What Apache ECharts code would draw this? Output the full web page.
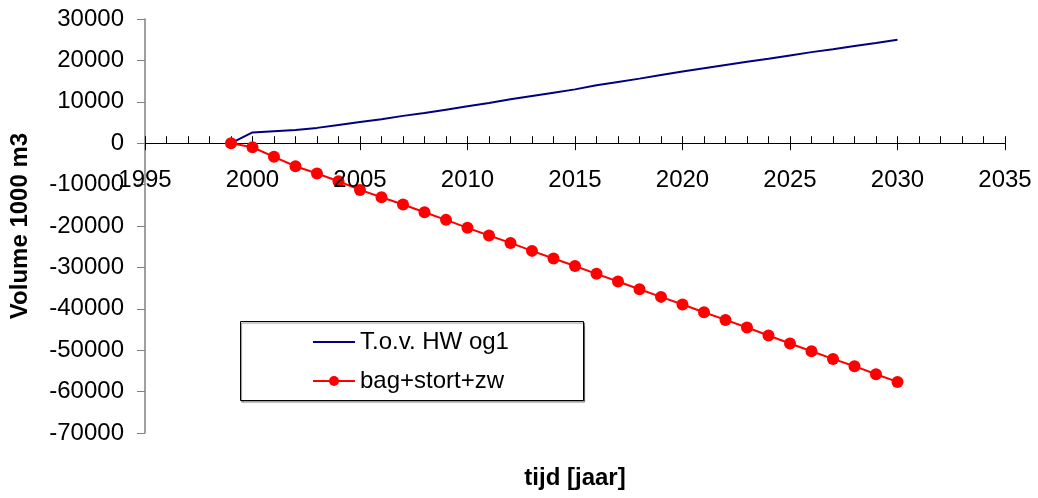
<!DOCTYPE html>
<html>
<head>
<meta charset="utf-8">
<script src="https://cdn.jsdelivr.net/npm/echarts@6/dist/echarts.min.js"></script>
<style>
  html, body { margin: 0; padding: 0; background: #fff; }
  #chart { width: 1038px; height: 498px; }
</style>
</head>
<body>
<div id="chart"></div>
<script>
// Years of the volume balance
const years = [1999, 2000, 2001, 2002, 2003, 2004, 2005, 2006, 2007, 2008, 2009,
  2010, 2011, 2012, 2013, 2014, 2015, 2016, 2017, 2018, 2019, 2020,
  2021, 2022, 2023, 2024, 2025, 2026, 2027, 2028, 2029, 2030];

// Volume relative to HW og1 (1000 m3)
const hwOg1 = [0, 2600, 2900, 3200, 3700, 4400, 5100, 5800, 6600, 7300, 8100,
  8900, 9700, 10600, 11400, 12200, 13000, 14000, 14800, 15600, 16500, 17300,
  18100, 18900, 19700, 20400, 21200, 22000, 22700, 23500, 24200, 25000];

// Dredging + dumping + sand mining (1000 m3)
const bagStortZw = [0, -970, -3300, -5560, -7330, -9180, -11280, -13040, -14810, -16670, -18520,
  -20450, -22300, -24080, -26010, -27850, -29670, -31560, -33410, -35270, -37120, -38960,
  -40820, -42680, -44520, -46450, -48390, -50240, -52100, -53860, -55800, -57660];

const seriesNames = ['T.o.v. HW og1', 'bag+stort+zw'];
const xTitle = 'tijd [jaar]';
const yTitle = 'Volume 1000 m3';

const FONT = '"Liberation Sans", Arial, Helvetica, sans-serif';
const toPairs = (xs, ys) => xs.map((x, i) => [x, ys[i]]);

const GRID = { left: 145, right: 33, top: 19, bottom: 65 };
const Y_MIN = -70000, Y_MAX = 30000;

const chart = echarts.init(document.getElementById('chart'));

// distance from the top of the plot to the zero line, for the year labels
const plotH = 498 - GRID.top - GRID.bottom;
const zeroFromTop = plotH * Y_MAX / (Y_MAX - Y_MIN);

const xBase = {
  type: 'value',
  min: 1995,
  max: 2035,
  interval: 5,
  position: 'bottom',
  splitLine: { show: false }
};
const yBase = {
  type: 'value',
  min: Y_MIN,
  max: Y_MAX,
  interval: 10000,
  position: 'left',
  splitLine: { show: false }
};

chart.setOption({
  animation: false,
  backgroundColor: '#ffffff',
  textStyle: { fontFamily: FONT },
  grid: Object.assign({ containLabel: false }, GRID),
  xAxis: [
    // main time axis, crossing the value axis at zero; ticks point up
    Object.assign({}, xBase, {
      axisLine: { show: true, onZero: true, onZeroAxisIndex: 0, lineStyle: { color: '#000', width: 1 } },
      axisTick: { show: true, inside: true, length: 7, lineStyle: { color: '#000', width: 1 } },
      minorTick: { show: true, splitNumber: 5, length: 7, lineStyle: { color: '#000', width: 1 } },
      axisLabel: { show: false }
    }),
    // lower half of the crossing major ticks
    Object.assign({}, xBase, {
      axisLine: { show: true, onZero: true, onZeroAxisIndex: 1, lineStyle: { color: 'rgba(0,0,0,0)', width: 1 } },
      axisTick: { show: true, inside: false, length: 7, lineStyle: { color: '#000', width: 1 } },
      minorTick: { show: false },
      axisLabel: { show: false }
    }),
    // year labels just below the zero line, drawn over the series
    Object.assign({}, xBase, {
      position: 'top',
      offset: -zeroFromTop,
      z: 10,
      axisLine: { show: false, onZero: false },
      axisTick: { show: false },
      minorTick: { show: false },
      axisLabel: { show: true, inside: true, margin: 25, color: '#000', fontSize: 24, fontFamily: FONT,
        formatter: v => String(v) }
    })
  ],
  yAxis: [
    Object.assign({}, yBase, {
      name: yTitle,
      nameLocation: 'middle',
      nameGap: 113,
      nameTextStyle: { color: '#000', fontSize: 24, fontWeight: 'bold', fontFamily: FONT },
      axisLine: { show: true, onZero: false, lineStyle: { color: '#808080', width: 1.5 } },
      axisTick: { show: true, inside: false, length: 8, lineStyle: { color: '#808080', width: 1 } },
      axisLabel: { margin: 21, color: '#000', fontSize: 24, fontFamily: FONT,
        formatter: v => String(v) }
    }),
    Object.assign({}, yBase, {
      axisLine: { show: false, onZero: false },
      axisTick: { show: false },
      axisLabel: { show: false }
    })
  ],
  legend: {
    orient: 'vertical',
    left: 312,
    top: 330,
    itemWidth: 42,
    itemHeight: 12.5,
    itemGap: 15,
    padding: 0,
    textStyle: { color: '#000', fontSize: 24, fontFamily: FONT },
    data: [
      { name: seriesNames[0], itemStyle: { opacity: 0 } },
      { name: seriesNames[1] }
    ]
  },
  graphic: [
    {
      type: 'rect',
      z: 3,
      shape: { x: 240.5, y: 321.5, width: 343, height: 79 },
      style: { fill: '#fff', stroke: '#000', lineWidth: 1,
        shadowColor: 'rgba(0,0,0,0.45)', shadowOffsetX: 1, shadowOffsetY: 1.5, shadowBlur: 1 }
    },
    {
      type: 'text',
      x: 575,
      y: 478,
      style: { text: xTitle, fill: '#000', fontSize: 24, fontWeight: 'bold', fontFamily: FONT,
        align: 'center', verticalAlign: 'middle' }
    }
  ],
  series: [
    {
      name: seriesNames[0],
      type: 'line',
      xAxisIndex: 0,
      yAxisIndex: 0,
      data: toPairs(years, hwOg1),
      showSymbol: false,
      symbol: 'none',
      lineStyle: { color: '#000080', width: 2 },
      itemStyle: { color: '#000080' },
      z: 2
    },
    {
      name: seriesNames[1],
      type: 'line',
      xAxisIndex: 0,
      yAxisIndex: 0,
      data: toPairs(years, bagStortZw),
      symbol: 'circle',
      symbolSize: 12,
      lineStyle: { color: '#ff0000', width: 2 },
      itemStyle: { color: '#ff0000' },
      z: 3
    }
  ]
});
</script>
</body>
</html>
